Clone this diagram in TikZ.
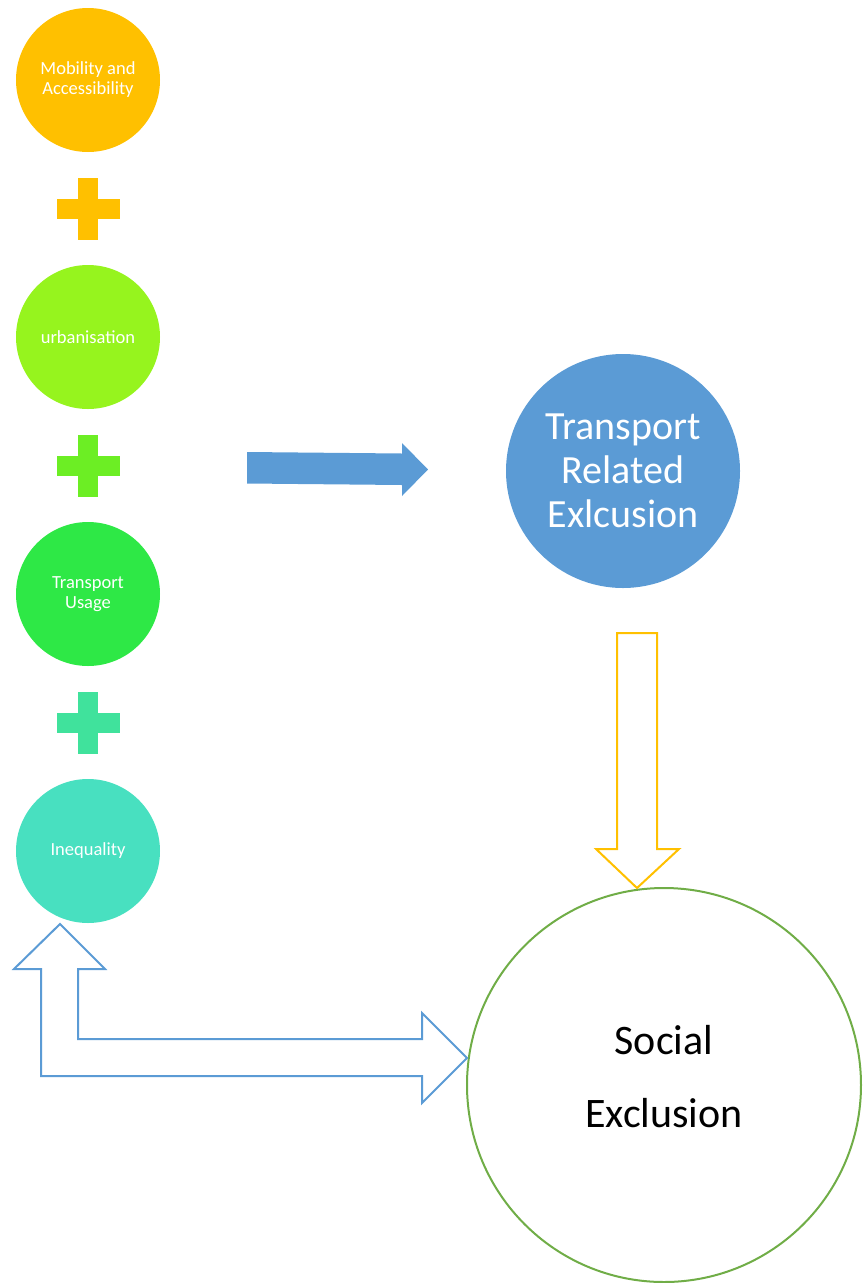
\documentclass[tikz,border=0pt]{standalone}
\usepackage{fontspec}
\setmainfont{Carlito}
\definecolor{cOrange}{HTML}{FFC000}
\definecolor{cLime}{HTML}{96F41E}
\definecolor{cGreen}{HTML}{2EE846}
\definecolor{cTeal}{HTML}{48E0C0}
\definecolor{cPlusTwo}{HTML}{6CEE24}
\definecolor{cPlusThree}{HTML}{40E29C}
\definecolor{cBlue}{HTML}{5B9BD5}
\definecolor{cOlive}{HTML}{70AD47}
\begin{document}
\begin{tikzpicture}[x=1pt,y=-1pt,
  factor/.style={circle,inner sep=0pt,minimum size=144pt,text=white,align=center,
    font=\fontsize{18.5}{20}\selectfont},
  pics/plussign/.style={code={
    \fill[#1] (-10,-31) rectangle (10,31);
    \fill[#1] (-31.5,-10) rectangle (31.5,10);}},
  outlinearrow/.style={line width=2pt,line join=miter,fill=white}]
\useasboundingbox (0,0) rectangle (867,1283);

% contributing factors
\node[factor,fill=cOrange] (mob) at (88,80) {Mobility and\\Accessibility};
\node[factor,fill=cLime]   (urb) at (88,337) {urbanisation};
\node[factor,fill=cGreen]  (use) at (88,594) {Transport\\Usage};
\node[factor,fill=cTeal]   (ineq) at (88,851) {Inequality};

\pic at (88,209) {plussign=cOrange};
\pic at (88,466) {plussign=cPlusTwo};
\pic at (88,723) {plussign=cPlusThree};

% outcomes
\node[circle,fill=cBlue,inner sep=0pt,minimum size=234pt,text=white,align=center,
  font=\fontsize{40}{44}\selectfont] (tre) at (623,471) {Transport\\Related\\Exlcusion};
\node[circle,draw=cOlive,line width=2pt,inner sep=0pt,minimum size=394pt] (soc) at (664,1085) {};
\node[align=center,font=\fontsize{42}{73}\selectfont] (soctext) at (664,1077) {Social\\Exclusion};

% solid arrow from the factors to transport related exclusion
\fill[cBlue] (247,452) -- (402,453.5) -- (402,443) -- (428,469.5) -- (402,496)
  -- (402,485) -- (247,483.5) -- cycle;

% hollow arrow down to social exclusion
\coordinate (ytip) at (637,888);
\draw[outlinearrow,draw=cOrange] (617,633) -- (657,633) -- (657,849) -- (679,849)
  -- (ytip) -- (596,849) -- (617,849) -- cycle;

% hollow bent double arrow between inequality and social exclusion
\coordinate (btip) at (60,924);
\coordinate (rtip) at (467,1058);
\draw[outlinearrow,draw=cBlue] (btip) -- (105,969) -- (78,969) -- (78,1039)
  -- (422,1039) -- (422,1013) -- (rtip) -- (422,1103) -- (422,1076)
  -- (41,1076) -- (41,969) -- (14,969) -- cycle;
\end{tikzpicture}
\end{document}
